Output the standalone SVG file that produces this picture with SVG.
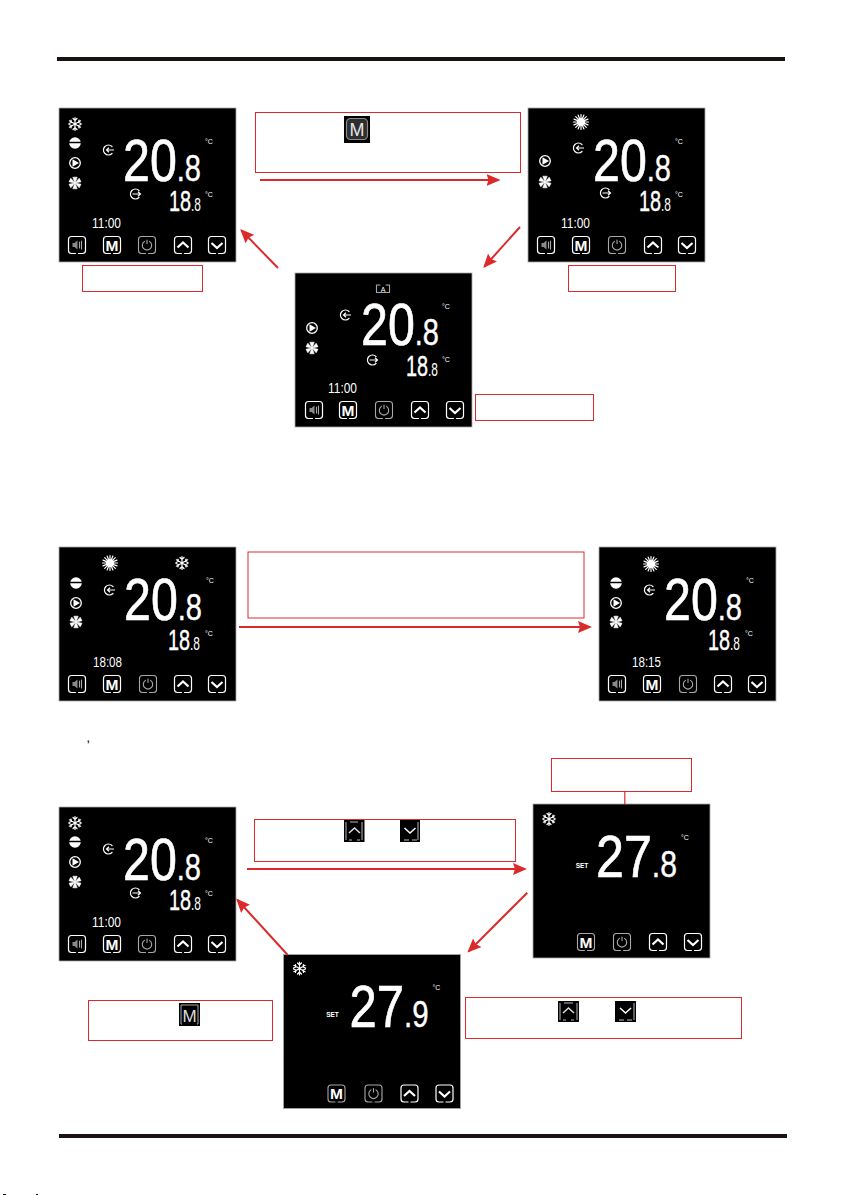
<svg xmlns="http://www.w3.org/2000/svg" width="843" height="1195" viewBox="0 0 843 1195">
<style>
text{font-family:"Liberation Sans",Arial,sans-serif;fill:#fff}
.big{font-size:60px;stroke:#fff;stroke-width:.7}
.frac{font-size:36px;stroke-width:.4}
.mid{font-size:30px;stroke:#fff;stroke-width:.4}
.sm{font-size:18px;stroke-width:0}
.time{font-size:15px}
.deg{font-size:7px;text-anchor:middle}
.set{font-size:6.5px;font-weight:bold;text-anchor:middle}
.m{font-size:15.5px;font-weight:bold;text-anchor:middle}
.ma{font-size:7px;text-anchor:middle}
.lcd{fill:#000;stroke:#a9a9a9;stroke-width:.8}
.box{fill:none;stroke:#dc2a2a;stroke-width:1}
.wire{fill:none;stroke:#dc2a2a;stroke-width:2}
.w{fill:none;stroke:#fff;stroke-width:1.2;stroke-linecap:round}
.d{fill:none;stroke:#a8a8a8;stroke-width:1.1;stroke-linecap:round}
.f{fill:#fff}
</style>
<defs>
<marker id="ah" viewBox="0 0 14 12" refX="12" refY="6" markerWidth="14" markerHeight="12" markerUnits="userSpaceOnUse" orient="auto"><path d="M0 0L14 6L0 12L2 6Z" fill="#dc2a2a"/></marker>
<path id="b" class="w" d="M-1.5 8.5H-5.5A3 3 0 0 1-8.5 5.5V-5.5A3 3 0 0 1-5.5-8.5H5.5A3 3 0 0 1 8.5-5.5V5.5A3 3 0 0 1 5.5 8.5H1.5"/>
<g id="bd"><path class="d" d="M-1.5 8.5H-5.5A3 3 0 0 1-8.5 5.5V-5.5A3 3 0 0 1-5.5-8.5H5.5A3 3 0 0 1 8.5-5.5V5.5A3 3 0 0 1 5.5 8.5H1.5"/></g>
<g id="spk"><use href="#b"/><path d="M-4.500-2H-2.500L.5-4.500V4.500L-2.500 2H-4.500Z" fill="#8a8a8a"/><path class="d" d="M2.500-3V3M4.500-4V4"/></g>
<g id="pwr"><use href="#bd"/><path class="d" d="M-2.500-3.600A4.700 4.700 0 1 0 2.500-3.600M0-5V-1.500"/></g>
<g id="up"><use href="#b"/><path d="M-5.500 2.500L0-2.500L5.500 2.500" fill="none" stroke="#fff" stroke-width="2.200"/></g>
<g id="dn"><use href="#b"/><path d="M-5.500-2L0 3L5.500-2" fill="none" stroke="#fff" stroke-width="2.200"/></g>
<g id="snow" class="w" stroke-width="1"><path d="M0-6.500V6.500M-5.600-3.200L5.600 3.200M-5.600 3.200L5.600-3.200M-2-5.500L0-3.500L2-5.500M-2 5.500L0 3.500L2 5.500M-6-.5L-3.500-1.500L-4-4M6 .5L3.500 1.500L4 4M-6 .5L-3.500 1.500L-4 4M6-.5L3.500-1.500L4-4"/></g>
<g id="sun"><circle r="4" class="f"/><path class="w" d="M0-7.500V7.500M-7.500 0H7.500M-5.300-5.300L5.300 5.300M-5.300 5.300L5.300-5.300M-2.900-7L2.900 7M2.900-7L-2.900 7M-7-2.900L7 2.900M-7 2.900L7-2.900"/></g>
<g id="minus"><circle r="5.800" class="f"/><path d="M-6-.5H6" stroke="#000" stroke-width="1.500"/></g>
<g id="play"><circle r="5.300" fill="none" stroke="#fff" stroke-width="1.300"/><path class="f" d="M-2.500-3.800L4 0L-2.500 3.800Z"/></g>
<g id="fan"><path d="M0 0L-2.200-5.800L2.200-5.800Z M0 0L-2.200 5.800L2.200 5.800Z M0 0L-6-1.200L-4.200-4.800Z M0 0L6 1.200L4.200 4.800Z M0 0L-6 1.200L-4.200 4.800Z M0 0L6-1.200L4.200-4.800Z" class="f" stroke="#fff" stroke-width=".6"/></g>
<g id="in"><path class="w" d="M4-3.500A5 5 0 1 0 4 3.500"/><path d="M6 0H-1.500M1 -2.300L-1.500 0L1 2.300" fill="none" stroke="#fff" stroke-width="1.200"/></g>
<g id="out"><path class="w" d="M4-3.500A5 5 0 1 0 4 3.500"/><path d="M-2.500 0H5.500M3-2.300L5.500 0L3 2.300" fill="none" stroke="#fff" stroke-width="1.200"/></g>
</defs>

<rect width="843" height="1195" fill="#fff"/>
<rect x="57" y="57" width="728" height="4" fill="#1a1311"/>
<rect x="59" y="1134" width="728" height="4" fill="#1a1311"/>

<g id="screen-1" transform="translate(59 108)">
<rect class="lcd" width="177" height="154"/>
<use href="#snow" x="16" y="16"/><use href="#minus" x="16" y="35"/><use href="#play" x="16" y="55"/><use href="#fan" x="16" y="75"/>
<use href="#in" x="49" y="42"/><use href="#out" x="76" y="86"/>
<text class="big" x="64" y="73" textLength="78" lengthAdjust="spacingAndGlyphs">20<tspan class="frac">.8</tspan></text>
<text class="deg" x="150" y="36">°C</text>
<text class="mid" x="110" y="103" textLength="32" lengthAdjust="spacingAndGlyphs">18<tspan class="sm">.8</tspan></text>
<text class="deg" x="150" y="89">°C</text>
<text class="time" x="33" y="120" textLength="29" lengthAdjust="spacingAndGlyphs">11:00</text>
<use href="#spk" x="18" y="137"/><use href="#b" x="53" y="137"/><text class="m" x="53" y="142.500">M</text><use href="#pwr" x="88" y="137"/><use href="#up" x="124" y="137"/><use href="#dn" x="158" y="137"/>
</g>

<g id="screen-2" transform="translate(528 108)">
<rect class="lcd" width="177" height="154"/>
<use href="#sun" x="53" y="14"/><use href="#play" x="17" y="53"/><use href="#fan" x="17" y="74"/>
<use href="#in" x="50" y="40"/><use href="#out" x="77" y="85"/>
<text class="big" x="65" y="73" textLength="78" lengthAdjust="spacingAndGlyphs">20<tspan class="frac">.8</tspan></text>
<text class="deg" x="151" y="36">°C</text>
<text class="mid" x="111" y="103" textLength="32" lengthAdjust="spacingAndGlyphs">18<tspan class="sm">.8</tspan></text>
<text class="deg" x="151" y="89">°C</text>
<text class="time" x="33" y="120" textLength="29" lengthAdjust="spacingAndGlyphs">11:00</text>
<use href="#spk" x="18" y="137"/><use href="#b" x="53" y="137"/><text class="m" x="53" y="142.500">M</text><use href="#pwr" x="89" y="137"/><use href="#up" x="125" y="137"/><use href="#dn" x="159" y="137"/>
</g>

<g id="screen-3" transform="translate(295 273)">
<rect class="lcd" width="177" height="154"/>
<path class="d" d="M81.500 12V19.500H94.500V12H91M85 12H81.500"/><text class="ma" x="88" y="18.500">A</text>
<use href="#play" x="17" y="55"/><use href="#fan" x="17" y="75"/>
<use href="#in" x="50" y="42"/><use href="#out" x="77" y="87"/>
<text class="big" x="66" y="72" textLength="78" lengthAdjust="spacingAndGlyphs">20<tspan class="frac">.8</tspan></text>
<text class="deg" x="151" y="36">°C</text>
<text class="mid" x="111" y="103" textLength="32" lengthAdjust="spacingAndGlyphs">18<tspan class="sm">.8</tspan></text>
<text class="deg" x="151" y="89">°C</text>
<text class="time" x="33" y="120" textLength="29" lengthAdjust="spacingAndGlyphs">11:00</text>
<use href="#spk" x="19" y="137"/><use href="#b" x="53" y="137"/><text class="m" x="53" y="142.500">M</text><use href="#pwr" x="89" y="137"/><use href="#up" x="125" y="137"/><use href="#dn" x="160" y="137"/>
</g>

<g id="screen-4" transform="translate(59 547)">
<rect class="lcd" width="177" height="154"/>
<use href="#sun" x="51" y="16"/><use href="#snow" x="123" y="16"/><use href="#minus" x="17" y="36"/><use href="#play" x="17" y="56"/><use href="#fan" x="17" y="75"/>
<use href="#in" x="50" y="43"/>
<text class="big" x="65" y="73" textLength="78" lengthAdjust="spacingAndGlyphs">20<tspan class="frac">.8</tspan></text>
<text class="deg" x="151" y="36">°C</text>
<text class="mid" x="109" y="103" textLength="32" lengthAdjust="spacingAndGlyphs">18<tspan class="sm">.8</tspan></text>
<text class="deg" x="150" y="89">°C</text>
<text class="time" x="34" y="120" textLength="29" lengthAdjust="spacingAndGlyphs">18:08</text>
<use href="#spk" x="18" y="137"/><use href="#b" x="53" y="137"/><text class="m" x="53" y="142.500">M</text><use href="#pwr" x="89" y="137"/><use href="#up" x="124" y="137"/><use href="#dn" x="158" y="137"/>
</g>

<g id="screen-5" transform="translate(599 547)">
<rect class="lcd" width="177" height="154"/>
<use href="#sun" x="52" y="17"/><use href="#minus" x="17" y="36"/><use href="#play" x="17" y="56"/><use href="#fan" x="17" y="75"/>
<use href="#in" x="50" y="43"/>
<text class="big" x="65" y="73" textLength="78" lengthAdjust="spacingAndGlyphs">20<tspan class="frac">.8</tspan></text>
<text class="deg" x="151" y="36">°C</text>
<text class="mid" x="109" y="103" textLength="32" lengthAdjust="spacingAndGlyphs">18<tspan class="sm">.8</tspan></text>
<text class="deg" x="150" y="89">°C</text>
<text class="time" x="33" y="120" textLength="29" lengthAdjust="spacingAndGlyphs">18:15</text>
<use href="#spk" x="18" y="137"/><use href="#b" x="53" y="137"/><text class="m" x="53" y="142.500">M</text><use href="#pwr" x="89" y="137"/><use href="#up" x="124" y="137"/><use href="#dn" x="158" y="137"/>
</g>

<g id="screen-6" transform="translate(59 807)">
<rect class="lcd" width="177" height="154"/>
<use href="#snow" x="16" y="16"/><use href="#minus" x="16" y="35"/><use href="#play" x="16" y="55"/><use href="#fan" x="16" y="75"/>
<use href="#in" x="49" y="42"/><use href="#out" x="76" y="86"/>
<text class="big" x="64" y="73" textLength="78" lengthAdjust="spacingAndGlyphs">20<tspan class="frac">.8</tspan></text>
<text class="deg" x="150" y="36">°C</text>
<text class="mid" x="110" y="103" textLength="32" lengthAdjust="spacingAndGlyphs">18<tspan class="sm">.8</tspan></text>
<text class="deg" x="150" y="89">°C</text>
<text class="time" x="33" y="120" textLength="29" lengthAdjust="spacingAndGlyphs">11:00</text>
<use href="#spk" x="18" y="137"/><use href="#b" x="53" y="137"/><text class="m" x="53" y="142.500">M</text><use href="#pwr" x="88" y="137"/><use href="#up" x="124" y="137"/><use href="#dn" x="158" y="137"/>
</g>

<g id="screen-7" transform="translate(533 804)">
<rect class="lcd" width="177" height="154"/>
<use href="#snow" x="16" y="15"/>
<text class="set" x="49" y="63.500">SET</text>
<text class="big" x="63" y="73" textLength="81" lengthAdjust="spacingAndGlyphs">27<tspan class="frac">.8</tspan></text>
<text class="deg" x="152" y="36">°C</text>
<use href="#bd" x="53" y="138"/><text class="m" x="53" y="143.500">M</text><use href="#pwr" x="89" y="138"/><use href="#up" x="125" y="138"/><use href="#dn" x="160" y="138"/>
</g>

<g id="screen-8" transform="translate(283.500 954.500)">
<rect class="lcd" width="177" height="154"/>
<use href="#snow" x="16" y="14"/>
<text class="set" x="49" y="62.500">SET</text>
<text class="big" x="66" y="72" textLength="79" lengthAdjust="spacingAndGlyphs">27<tspan class="frac">.9</tspan></text>
<text class="deg" x="153" y="35">°C</text>
<use href="#bd" x="53" y="139"/><text class="m" x="53" y="144.500">M</text><use href="#pwr" x="90" y="139"/><use href="#up" x="126" y="139"/><use href="#dn" x="161" y="139"/>
</g>

<g id="callouts">
<rect class="box" x="82.500" y="265.500" width="120" height="26"/>
<rect class="box" x="255.500" y="112.500" width="265" height="60"/>
<rect class="box" x="568.500" y="265.500" width="107" height="26"/>
<rect class="box" x="475.500" y="394.500" width="118" height="26"/>
<rect class="box" x="248" y="552" width="336" height="66"/>
<rect class="box" x="551.500" y="758.500" width="140" height="33"/>
<rect class="box" x="254.500" y="819.500" width="261" height="42"/>
<rect class="box" x="88.500" y="1000.500" width="184" height="40"/>
<rect class="box" x="465.500" y="997.500" width="276" height="41"/>
</g>

<g id="inline-keys">
<g id="key-m-1" transform="translate(344 116)"><rect width="26" height="27" fill="#000"/><rect x="2.500" y="2.500" width="21" height="21" rx="4" fill="#2e2e2e" stroke="#8a8a8a" stroke-width="1.200"/><text class="m" x="13" y="19.500" style="font-size:18px;font-weight:normal;fill:#e4e4e4">M</text></g>
<g id="key-up-1" transform="translate(344 820)"><rect width="20.500" height="22" fill="#000"/><path d="M2 2V20M18 2V20M6 2H14M5 20H8M13 20H16" fill="none" stroke="#bbb"/><path d="M5 13L10.500 8L16 13" fill="none" stroke="#ddd" stroke-width="1.500"/></g>
<g id="key-dn-1" transform="translate(400 820)"><rect width="20" height="22" fill="#000"/><path d="M18 2V20M4 20H9M12 20H17" fill="none" stroke="#bbb"/><path d="M4.500 8L10 13L15.500 8" fill="none" stroke="#fff" stroke-width="1.500"/></g>
<g id="key-m-2" transform="translate(179 1003)"><rect width="21" height="23" fill="#000"/><path d="M3 21H2V2H19V21H18" fill="none" stroke="#aaa"/><text class="m" x="10.500" y="18.500" style="font-size:17px;font-weight:normal;fill:#ddd">M</text></g>
<g id="key-up-2" transform="translate(558 1001)"><rect width="21" height="21" fill="#000"/><path d="M2 2V19M19 2V19M6 2H15M5 19H8M13 19H16" fill="none" stroke="#bbb"/><path d="M5 12L10.500 7L16 12" fill="none" stroke="#ddd" stroke-width="1.500"/></g>
<g id="key-dn-2" transform="translate(615 1001)"><rect width="21" height="21" fill="#000"/><path d="M19 2V19M4 19H9M12 19H17" fill="none" stroke="#bbb"/><path d="M5 7L10.500 12L16 7" fill="none" stroke="#fff" stroke-width="1.500"/></g>
</g>

<g id="connectors">
<path class="wire" marker-end="url(#ah)" d="M260 180H498.500"/>
<path class="wire" marker-end="url(#ah)" d="M520 227L484.500 266.500"/>
<path class="wire" marker-end="url(#ah)" d="M278 268L241.500 230.500"/>
<path class="wire" marker-end="url(#ah)" d="M239 627H590"/>
<path class="box" style="stroke-width:1.200" d="M624.800 792V804"/>
<path class="wire" marker-end="url(#ah)" d="M247 869H525"/>
<path class="wire" marker-end="url(#ah)" d="M527.300 892.700L468.800 951.200"/>
<path class="wire" marker-end="url(#ah)" d="M287.700 955L237.500 900"/>
</g>

<text x="87" y="742" style="font-size:9px;fill:#000;font-weight:bold">,</text>
<g id="specks"><rect x="3" y="1194" width="3" height="1" fill="#111"/><rect x="36" y="1194" width="2" height="1" fill="#111"/></g>
</svg>
